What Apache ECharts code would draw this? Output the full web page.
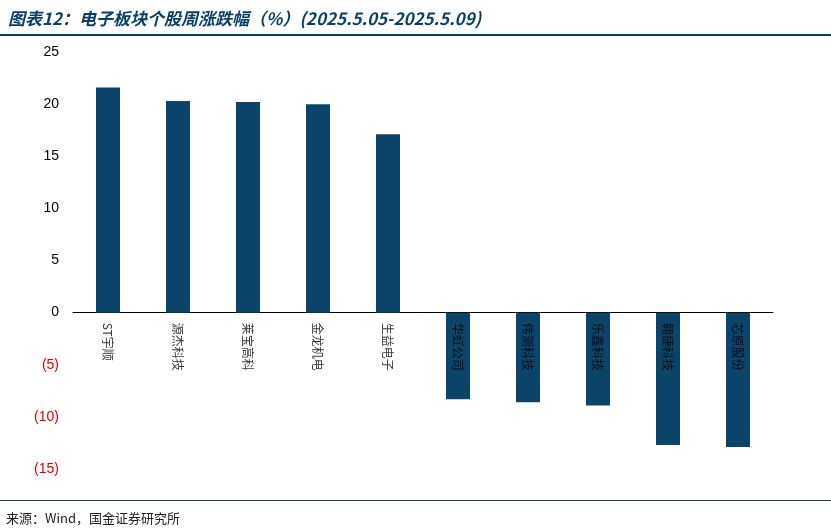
<!DOCTYPE html>
<html>
<head>
<meta charset="utf-8">
<script src="https://cdn.jsdelivr.net/npm/echarts@6/dist/echarts.min.js"></script>
<style>
body { margin: 0; background: #fff; }
#title { position: absolute; left: 8px; top: 5px; font: italic bold 17px "Noto Sans CJK SC"; color: #0b3f66; }
#topline { position: absolute; left: 0; top: 34px; width: 831px; height: 2px; background: #0b3f66; }
#botline { position: absolute; left: 0; top: 500px; width: 831px; height: 1px; background: #0b3f66; }
#source { position: absolute; left: 6px; top: 508px; font: 13px "Noto Sans CJK SC"; color: #222; }
#chart { position: absolute; left: 0; top: 0; width: 831px; height: 530px; }
</style>
</head>
<body>
<div id="chart"></div>
<div id="title">图表12：电子板块个股周涨跌幅（%）(2025.5.05-2025.5.09)</div>
<div id="topline"></div>
<div id="botline"></div>
<div id="source">来源：Wind，国金证券研究所</div>
<script>
var names = ['ST宇顺', '源杰科技', '莱宝高科', '金龙机电', '生益电子', '华虹公司', '伟测科技', '乐鑫科技', '翱捷科技', '芯原股份'];
var changes = [21.6, 20.3, 20.2, 20.0, 17.1, -8.3, -8.6, -8.9, -12.7, -12.9];

var myChart = echarts.init(document.getElementById('chart'));
var option = {
    animation: false,
    grid: { left: 73, right: 58, top: 52, bottom: 61 },
    xAxis: {
        type: 'category',
        data: names,
        axisLine: { onZero: true, lineStyle: { color: '#000', width: 1 } },
        axisTick: { show: false },
        axisLabel: { show: false }
    },
    yAxis: {
        type: 'value',
        min: -15, max: 25, interval: 5,
        splitLine: { show: false },
        axisLine: { show: false },
        axisTick: { show: false },
        axisLabel: {
            fontSize: 14, margin: 14, fontFamily: 'Arial',
            formatter: function (v) { return v < 0 ? '(' + (-v) + ')' : v; },
            color: function (v) { return v < 0 ? '#e00000' : '#000'; }
        }
    },
    series: [{
        type: 'bar',
        data: changes,
        barWidth: 24,
        itemStyle: { color: '#0b4468' }
    }, {
        type: 'scatter',
        data: names.map(function (n) { return [n, 0]; }),
        symbolSize: 0,
        z: 10,
        label: {
            show: true,
            position: 'bottom',
            distance: 10,
            rotate: -90,
            align: 'left',
            verticalAlign: 'middle',
            color: '#000',
            fontSize: 12,
            fontFamily: 'Noto Sans CJK SC',
            formatter: function (p) { return p.data[0]; }
        }
    }]
};
myChart.setOption(option);
window.addEventListener('resize', () => myChart.resize());
</script>
</body>
</html>
